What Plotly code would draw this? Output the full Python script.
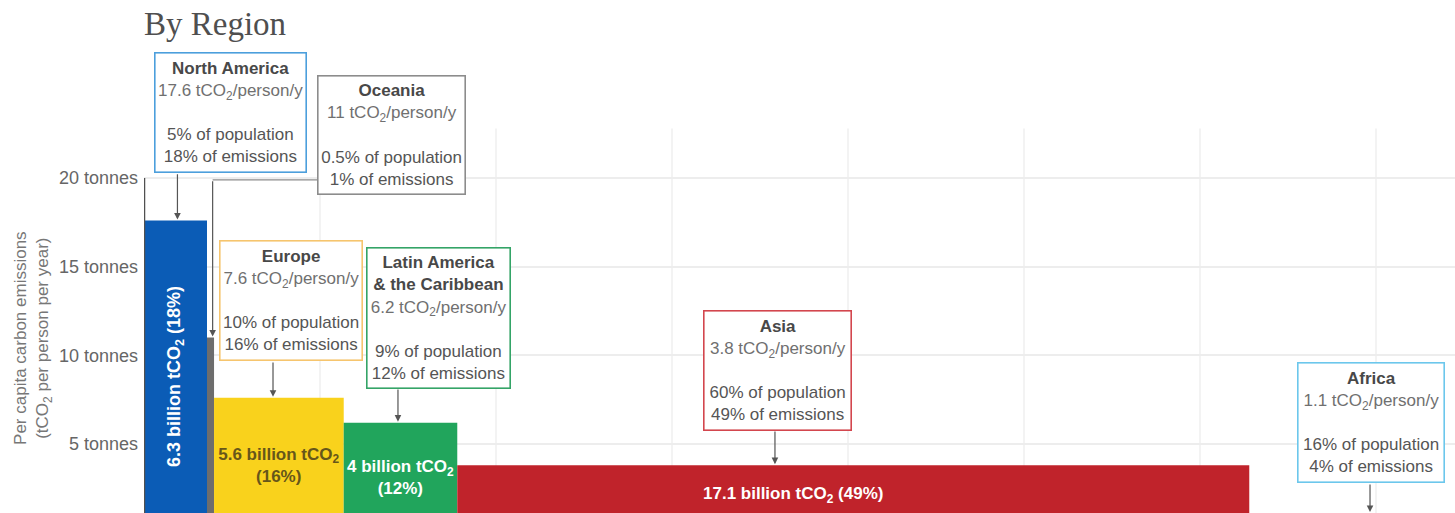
import plotly.graph_objects as go

# ---- data -------------------------------------------------------------
regions = ["North America", "Oceania", "Europe",
           "Latin America<br>& the Caribbean", "Asia", "Africa"]
per_capita_t = [17.6, 11, 7.6, 6.2, 3.8, 1.1]          # tCO2 per person per year
emissions_bn_t = [6.3, 0.44, 5.6, 4, 17.1, 1.4]        # billion tCO2 per year
population_pct = [5, 0.5, 10, 9, 60, 16]
emissions_pct = [18, 1, 16, 12, 49, 4]

y_tick_values = [5, 10, 15, 20]
y_tick_labels = ["5 tonnes", "10 tonnes", "15 tonnes", "20 tonnes"]
population_grid_bn = [1, 2, 3, 4, 5, 6, 7]            # vertical guides, billions of people

# bar width = population (billions) so that bar area = total emissions
population_bn = [e / p for e, p in zip(emissions_bn_t, per_capita_t)]

# ---- styling ----------------------------------------------------------
bar_colors = ["#0b5cb6", "#6d6d6d", "#f9d21c", "#21a55c", "#c0232b", "#58c2ec"]
box_colors = ["#4c9fdc", "#8c8c8c", "#f6c56e", "#34a467", "#d3464e", "#6cc7ec"]

SANS = "Liberation Sans, Arial, sans-serif"
W, H = 1455, 513
LEFT = 144
PX_PER_BN = 176.0
PX_PER_T = 17.72
Y_MIN = 1.1
x_range = [0, (W - LEFT) / PX_PER_BN]
y_range = [Y_MIN, Y_MIN + H / PX_PER_T]

# callout boxes: centre (billions, tonnes), box size (px), arrow x and arrow tail y
callouts = [
    dict(x=0.494, y=23.73, w=152, h=120, arrow_x=0.19, tail=20.3),
    dict(x=1.409, y=22.43, w=148, h=119, arrow_x=0.39, tail=19.9),
    dict(x=0.838, y=13.07, w=143, h=120, arrow_x=0.733, tail=9.68),
    dict(x=1.676, y=12.13, w=144, h=141, arrow_x=1.443, tail=8.15),
    dict(x=3.597, y=9.17, w=148, h=120, arrow_x=3.585, tail=5.78),
    dict(x=6.969, y=6.18, w=147, h=120, arrow_x=6.966, tail=2.79),
]

# in-bar label style per region
bar_label = ["vertical", None, "stacked", "stacked", "offset", None]
bar_label_color = ["#ffffff", "#ffffff", "#66561a", "#ffffff", "#ffffff", "#ffffff"]
asia_label_pos = (3.69, 2.12)

fig = go.Figure()

# ---- bars -------------------------------------------------------------
left = 0.0
for i, name in enumerate(regions):
    w = population_bn[i]
    centre = left + w / 2
    emis = f"{emissions_bn_t[i]:g} billion tCO<sub>2</sub>"
    share = f"({emissions_pct[i]}%)"
    text, angle = "", 0
    if bar_label[i] == "vertical":
        text, angle = f"{emis} {share}", -90
    elif bar_label[i] == "stacked":
        text = f"{emis}<br>{share}"
    fig.add_trace(go.Bar(
        x=[centre], y=[per_capita_t[i]], width=[w], base=0,
        marker=dict(color=bar_colors[i], line=dict(width=0)),
        text=[text], textposition="inside", insidetextanchor="middle",
        textangle=angle,
        insidetextfont=dict(family=SANS, size=17 if angle == 0 else 18,
                            color=bar_label_color[i], weight="bold"),
        hoverinfo="skip", showlegend=False,
    ))
    left += w

annotations = []
shapes = []

# Asia total, placed under its callout
annotations.append(dict(
    x=asia_label_pos[0], y=asia_label_pos[1], xref="x", yref="y",
    text=f"{emissions_bn_t[4]:g} billion tCO<sub>2</sub> ({emissions_pct[4]}%)",
    showarrow=False, font=dict(family=SANS, size=17, color="#ffffff", weight="bold"),
))

# ---- callout boxes and arrows ------------------------------------------
for i, name in enumerate(regions):
    c = callouts[i]
    body = (f"<b><span style='color:#484848'>{name}</span></b><br>"
            f"<span style='color:#707070'>{per_capita_t[i]:g} tCO<sub>2</sub>/person/y</span><br>"
            f"<br>"
            f"{population_pct[i]:g}% of population<br>"
            f"{emissions_pct[i]:g}% of emissions")
    annotations.append(dict(
        x=c["x"], y=c["y"], xref="x", yref="y", text=body, showarrow=False,
        xanchor="center", yanchor="middle", align="center",
        width=c["w"] - 6, height=c["h"] - 6, borderpad=2,
        bordercolor=box_colors[i], borderwidth=1.6, bgcolor="#ffffff",
        font=dict(family=SANS, size=17, color="#555555"),
    ))
    annotations.append(dict(
        x=c["arrow_x"], y=per_capita_t[i], xref="x", yref="y",
        ax=c["arrow_x"], ay=c["tail"], axref="x", ayref="y",
        text="", showarrow=True, arrowhead=2, arrowsize=1.1, arrowwidth=1.2,
        arrowcolor="#555555", standoff=1,
    ))

# Oceania elbow connector (horizontal part)
oc = callouts[1]
shapes.append(dict(
    type="line", xref="x", yref="y",
    x0=oc["arrow_x"], x1=oc["x"] - (oc["w"] / 2) / PX_PER_BN, y0=oc["tail"], y1=oc["tail"],
    line=dict(color="#8c8c8c", width=1.3), layer="above",
))

# y axis line from zero up to the top tick
shapes.append(dict(
    type="line", xref="x", yref="y", x0=0, x1=0, y0=0, y1=max(y_tick_values),
    line=dict(color="#505050", width=2.5), layer="above",
))

# vertical population guides
for g in population_grid_bn:
    shapes.append(dict(
        type="line", xref="x", yref="y", x0=g, x1=g, y0=0, y1=22.8,
        line=dict(color="#efefef", width=1.5), layer="below",
    ))

# title and axis title
annotations.append(dict(
    x=-2 / (W - LEFT), y=(H - 24) / H, xref="paper", yref="paper",
    xanchor="left", yanchor="middle", text="By Region", showarrow=False,
    font=dict(family="Liberation Serif, Times New Roman, serif", size=33, color="#4f4f4f"),
))
annotations.append(dict(
    x=(33 - LEFT) / (W - LEFT), y=10.98, xref="paper", yref="y",
    xanchor="center", yanchor="middle", textangle=-90, showarrow=False,
    text="Per capita carbon emissions<br>(tCO<sub>2</sub> per person per year)",
    font=dict(family=SANS, size=17, color="#777777"),
))

fig.update_layout(
    width=W, height=H,
    margin=dict(l=LEFT, r=0, t=0, b=0),
    paper_bgcolor="#ffffff", plot_bgcolor="#ffffff",
    barmode="overlay", showlegend=False,
    xaxis=dict(range=x_range, visible=False, showgrid=False, zeroline=False, fixedrange=True),
    yaxis=dict(range=y_range, tickvals=y_tick_values, ticktext=y_tick_labels,
               showgrid=True, gridcolor="#ededed", gridwidth=1.5,
               zeroline=False, showline=False, ticks="", ticklabelstandoff=5,
               tickfont=dict(family=SANS, size=18, color="#666666"), fixedrange=True),
    annotations=annotations, shapes=shapes,
)

fig.write_html("out.html")
